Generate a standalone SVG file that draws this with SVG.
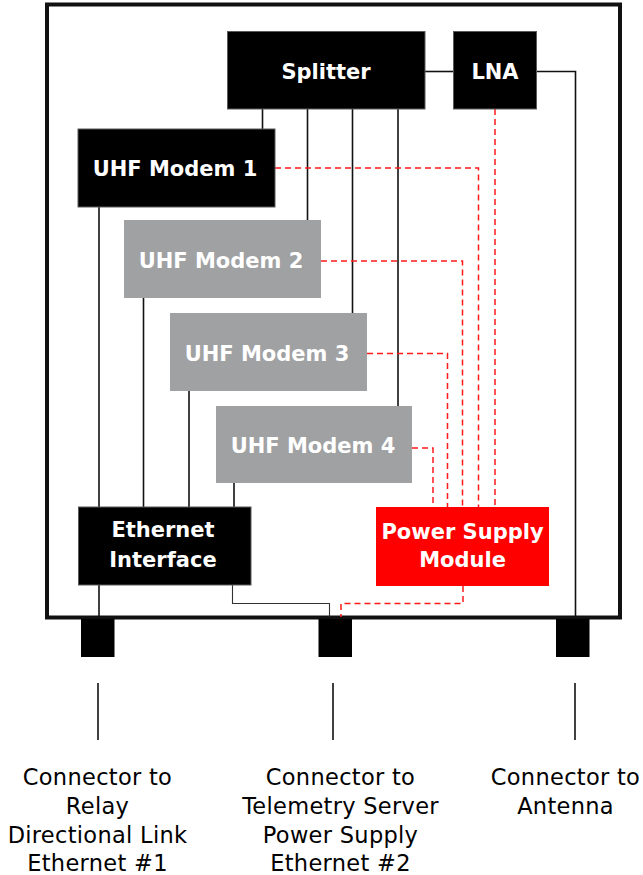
<svg xmlns="http://www.w3.org/2000/svg" width="643" height="875" viewBox="0 0 643 875">
  <style>
    .blk { fill: #000; stroke: #5a5a5a; stroke-width: 1; }
    .gry { fill: #a0a1a3; }
    .red { fill: #ff0000; }
    .lbl { font-family: "DejaVu Sans", "Liberation Sans", sans-serif; font-weight: bold; font-size: 21px; fill: #fff; text-anchor: middle; }
    .cap { font-family: "DejaVu Sans", "Liberation Sans", sans-serif; font-size: 22.5px; fill: #000; text-anchor: middle; letter-spacing: 0.3px; }
    .wire { stroke: #111; stroke-width: 1.6; fill: none; }
    .thin { stroke: #333; stroke-width: 1.1; fill: none; }
    .pwr { stroke: #ff1a1a; stroke-width: 1.5; fill: none; stroke-dasharray: 6 4; }
    .stub { fill: #000; }
  </style>

  <!-- enclosure -->
  <rect id="enclosure" x="47" y="4.5" width="573" height="613" fill="#fff" stroke="#111" stroke-width="4"/>

  <!-- connectors -->
  <g id="connectors">
    <line class="wire" x1="425" y1="71.5" x2="453" y2="71.5"/>
    <polyline class="wire" points="537,71.5 575.5,71.5 575.5,617"/>
    <line class="wire" x1="262.5" y1="109" x2="262.5" y2="129"/>
    <line class="wire" x1="307.5" y1="109" x2="307.5" y2="220"/>
    <line class="wire" x1="352.5" y1="109" x2="352.5" y2="313"/>
    <line class="wire" x1="398" y1="109" x2="398" y2="406"/>
    <line class="wire" x1="99" y1="207" x2="99" y2="507"/>
    <line class="wire" x1="143.5" y1="298" x2="143.5" y2="507"/>
    <line class="wire" x1="189" y1="391" x2="189" y2="507"/>
    <line class="wire" x1="234" y1="483" x2="234" y2="507"/>
    <line class="wire" x1="99" y1="585" x2="99" y2="617"/>
    <polyline class="thin" points="232.5,585 232.5,603.5 329.5,603.5 329.5,617"/>
    <polyline class="pwr" points="275,168 478.5,168 478.5,507"/>
    <polyline class="pwr" points="321,261 462.5,261 462.5,507"/>
    <polyline class="pwr" points="367,353.5 447.5,353.5 447.5,507"/>
    <polyline class="pwr" points="412,448 433,448 433,507"/>
    <line class="pwr" x1="495" y1="109" x2="495" y2="507"/>
    <polyline class="pwr" points="463,586 463,603.5 341,603.5 341,617"/>
    <line class="wire" x1="98" y1="683" x2="98" y2="740"/>
    <line class="wire" x1="333" y1="683" x2="333" y2="740"/>
    <line class="wire" x1="575" y1="683" x2="575" y2="740"/>
  </g>

  <g id="splitter">
    <rect class="blk" x="227.5" y="31.5" width="197.5" height="77.5"/>
    <text class="lbl" x="326" y="79">Splitter</text>
  </g>
  <g id="lna">
    <rect class="blk" x="453.5" y="31.5" width="83" height="77.5"/>
    <text class="lbl" x="495" y="79">LNA</text>
  </g>
  <g id="modem1">
    <rect class="blk" x="78" y="129" width="197" height="78"/>
    <text class="lbl" x="175" y="176">UHF Modem 1</text>
  </g>
  <g id="modem2">
    <rect class="gry" x="124" y="220" width="197" height="78"/>
    <text class="lbl" x="221" y="268">UHF Modem 2</text>
  </g>
  <g id="modem3">
    <rect class="gry" x="170" y="313" width="197" height="78"/>
    <text class="lbl" x="267" y="361">UHF Modem 3</text>
  </g>
  <g id="modem4">
    <rect class="gry" x="216" y="406" width="196" height="77"/>
    <text class="lbl" x="313" y="453">UHF Modem 4</text>
  </g>
  <g id="ethernet">
    <rect class="blk" x="78.5" y="507" width="172.5" height="78"/>
    <text class="lbl" x="163" y="536.5">Ethernet</text>
    <text class="lbl" x="163" y="566.5">Interface</text>
  </g>
  <g id="psu">
    <rect class="red" x="376" y="507" width="173" height="79"/>
    <text class="lbl" x="462.5" y="538.5">Power Supply</text>
    <text class="lbl" x="462.5" y="567">Module</text>
  </g>

  <g id="conn1">
    <rect class="stub" x="81" y="619" width="33.5" height="38"/>
    <text class="cap" x="97.5" y="785">Connector to</text>
    <text class="cap" x="97.5" y="814">Relay</text>
    <text class="cap" x="97.5" y="843">Directional Link</text>
    <text class="cap" x="97.5" y="871">Ethernet #1</text>
  </g>
  <g id="conn2">
    <rect class="stub" x="318.5" y="619" width="33.5" height="38"/>
    <text class="cap" x="340.5" y="785">Connector to</text>
    <text class="cap" x="340.5" y="814">Telemetry Server</text>
    <text class="cap" x="340.5" y="843">Power Supply</text>
    <text class="cap" x="340.5" y="871">Ethernet #2</text>
  </g>
  <g id="conn3">
    <rect class="stub" x="556" y="619" width="33.5" height="38"/>
    <text class="cap" x="565.5" y="785">Connector to</text>
    <text class="cap" x="565.5" y="814">Antenna</text>
  </g>
</svg>
